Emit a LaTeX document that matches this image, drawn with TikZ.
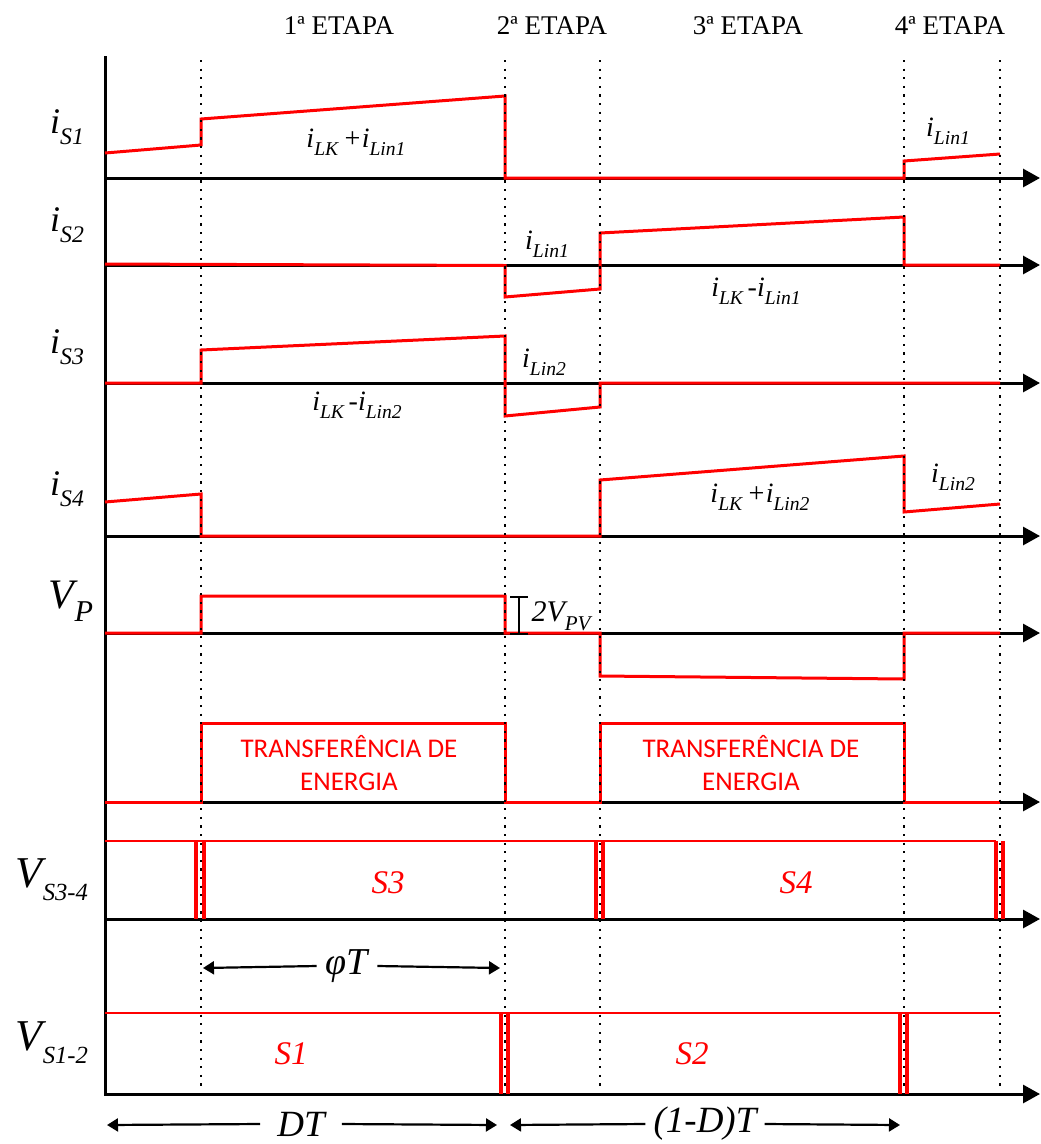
\documentclass[tikz,border=0pt]{standalone}
\usepackage{fontspec}
\usepackage{graphicx}
\setmainfont{Liberation Serif}
\newfontfamily\calibrifont{Carlito}
\usetikzlibrary{arrows.meta}
\newcommand{\sbs}[2][0.72]{\raisebox{-0.3em}{\scalebox{#1}{#2}}}
\begin{document}
\begin{tikzpicture}[x=1pt,y=-1pt,
  ax/.style={line width=3pt,-{Triangle[length=17pt,width=18pt]}},
  sig/.style={red,line width=3pt,line join=miter},
  sw/.style={red,line width=4pt},
  dots/.style={line width=2.2pt,dash pattern=on 2.2pt off 6.4pt},
  hdr/.style={font=\fontsize{27}{27}\selectfont},
  ylab/.style={font=\fontsize{36}{36}\selectfont\itshape},
  vlab/.style={font=\fontsize{44}{44}\selectfont\itshape},
  ilab/.style={font=\fontsize{28}{28}\selectfont\itshape},
  slab/.style={red,font=\fontsize{33}{33}\selectfont\itshape},
  tlab/.style={red,align=center,font=\calibrifont\fontsize{27}{33}\selectfont},
  dim/.style={line width=2.2pt,-{Triangle[length=11pt,width=13pt]}},
  dlab/.style={fill=white,inner ysep=2pt}
]
\useasboundingbox (0,0) rectangle (1041,1144);

% headers
\node[hdr] (e1) at (339,26) {1ª ETAPA};
\node[hdr] (e2) at (552,26) {2ª ETAPA};
\node[hdr] (e3) at (748,26) {3ª ETAPA};
\node[hdr] (e4) at (950,26) {4ª ETAPA};

% axes
\draw[line width=3pt] (105,56) -- (105,1095.5);
\foreach \yy in {178,265,383,536,633,802,919,1094}
  \draw[ax] (105,\yy) -- (1040,\yy);

% i_S1
\draw[sig] (105,153) -- (201,145) -- (201,119) -- (505,96) -- (505,178) -- (904,178) -- (904,161) -- (1000,154);
% i_S2
\draw[sig] (105,264) -- (505,265.5) -- (505,297) -- (600,289) -- (600,233) -- (904,217) -- (904,265) -- (1000,265);
% i_S3
\draw[sig] (105,383) -- (201,383) -- (201,350) -- (505,336) -- (505,416) -- (600,407) -- (600,383) -- (1000,383);
% i_S4
\draw[sig] (105,502) -- (201,494) -- (201,536) -- (600,536) -- (600,480) -- (904,456) -- (904,512) -- (1000,504);
% V_P
\draw[sig] (105,633) -- (201,633) -- (201,596) -- (505,596) -- (505,633) -- (600,633) -- (600,676) -- (904,679) -- (904,633) -- (1000,633);
% transfer
\draw[sig] (105,802) -- (201,802) -- (201,723) -- (505,723) -- (505,802) -- (600,802) -- (600,723) -- (904,723) -- (904,802) -- (1000,802);
% V_S3-4
\draw[red,line width=2.6pt] (105,841) -- (996,841);
\foreach \xx in {196,204,596,603,996,1003}
  \draw[sw] (\xx,841) -- (\xx,919);
% V_S1-2
\draw[red,line width=2.6pt] (105,1013) -- (1000,1013);
\foreach \xx in {501,508,900,907}
  \draw[sw] (\xx,1013) -- (\xx,1094);

% 2V_PV bar
\draw[line width=2.5pt] (519,597) -- (519,634);
\draw[line width=2.5pt] (510,597) -- (528,597);
\draw[line width=2.5pt] (510,634) -- (528,634);
\node[font=\fontsize{30}{30}\selectfont\itshape] (vpv) at (561,616) {2V\sbs[0.7]{PV}};

% dotted stage lines
\foreach \xx in {201,505,600,904,1000}
  \draw[dots] (\xx,60) -- (\xx,1090);

% left labels
\node[ylab] (ls1) at (67,127) {i\sbs[0.66]{S1}};
\node[ylab] (ls2) at (67,225) {i\sbs[0.66]{S2}};
\node[ylab] (ls3) at (67,347) {i\sbs[0.66]{S3}};
\node[ylab] (ls4) at (67,489) {i\sbs[0.66]{S4}};
\node[font=\fontsize{42}{42}\selectfont\itshape] (lvp) at (71,601) {V\sbs[0.72]{P}};
\node[vlab] (lv34) at (52,880) {V\sbs[0.56]{S3-4}};
\node[vlab] (lv12) at (52,1043) {V\sbs[0.56]{S1-2}};

% waveform labels
\node[ilab] (a1) at (356,142) {i\sbs[0.7]{LK}\,+i\sbs[0.7]{Lin1}};
\node[ilab] (a2) at (948,131) {i\sbs[0.7]{Lin1}};
\node[ilab] (a3) at (547,244) {i\sbs[0.7]{Lin1}};
\node[ilab] (a4) at (756,291) {i\sbs[0.7]{LK}\,-i\sbs[0.7]{Lin1}};
\node[ilab] (a5) at (544,362) {i\sbs[0.7]{Lin2}};
\node[ilab] (a6) at (357,405) {i\sbs[0.7]{LK}\,-i\sbs[0.7]{Lin2}};
\node[ilab] (a7) at (760,497) {i\sbs[0.7]{LK}\,+i\sbs[0.7]{Lin2}};
\node[ilab] (a8) at (953,477) {i\sbs[0.7]{Lin2}};

\node[tlab] (t1) at (349,763) {TRANSFERÊNCIA DE\\ENERGIA};
\node[tlab] (t2) at (751,763) {TRANSFERÊNCIA DE\\ENERGIA};

\node[slab] (s3) at (388,883) {S3};
\node[slab] (s4) at (796,883) {S4};
\node[slab] (s1) at (291,1054) {S1};
\node[slab] (s2) at (692,1054) {S2};

% phi T
\coordinate (phL) at (203,968);
\coordinate (phR) at (500,968);
\node[dlab,inner xsep=9pt,font=\fontsize{38}{38}\selectfont\itshape] (ph) at (347,966) {φT};
\draw[dim] (ph.west) -- (phL);
\draw[dim] (ph.east) -- (phR);

% DT and (1-D)T
\coordinate (dL) at (107,1125);
\coordinate (dR) at (497,1125);
\coordinate (eL) at (510,1125);
\coordinate (eR) at (900,1125);
\node[dlab,inner xsep=17pt,font=\fontsize{37}{37}\selectfont\itshape] (dt) at (301,1124) {DT};
\node[dlab,inner xsep=8pt,font=\fontsize{37}{37}\selectfont\itshape] (odt) at (705,1124) {(1-D)T};
\draw[dim] (dt.west) -- (dL);
\draw[dim] (dt.east) -- (dR);
\draw[dim] (odt.west) -- (eL);
\draw[dim] (odt.east) -- (eR);
\end{tikzpicture}
\end{document}
